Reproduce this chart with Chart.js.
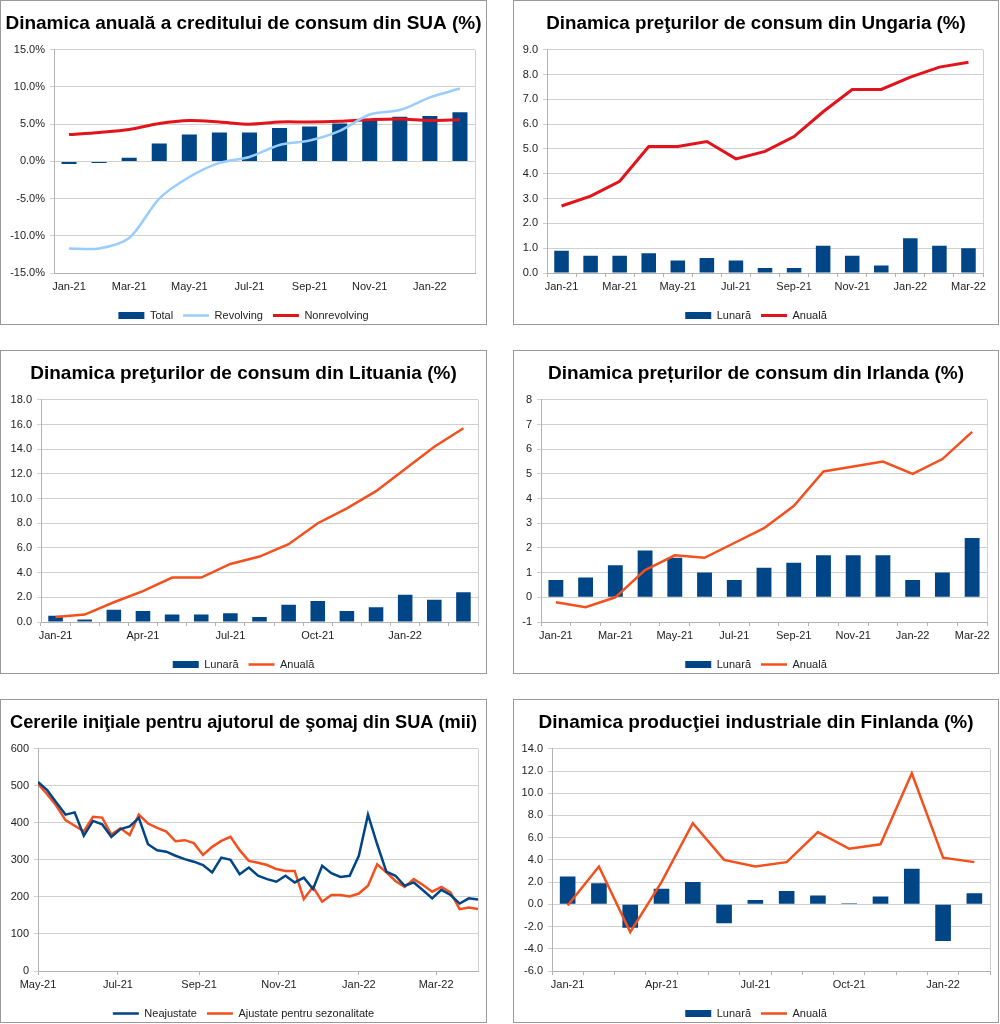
<!DOCTYPE html>
<html>
<head>
<meta charset="utf-8">
<script src="https://cdn.jsdelivr.net/npm/chart.js@4.4.0/dist/chart.umd.min.js"></script>
<style>
    body { margin: 0; background: #fff; width: 1000px; height: 1024px; position: relative; }
    .box { position: absolute; border: 1px solid #999; background: #fff; }
    .box canvas { display: block; }
</style>
</head>
<body>
<div class="box" style="left:0;top:0"><canvas id="c1" width="485" height="323"></canvas></div>
<div class="box" style="left:513px;top:0"><canvas id="c2" width="484" height="323"></canvas></div>
<div class="box" style="left:0;top:350px"><canvas id="c3" width="485" height="322"></canvas></div>
<div class="box" style="left:513px;top:350px"><canvas id="c4" width="484" height="322"></canvas></div>
<div class="box" style="left:0;top:699px"><canvas id="c5" width="485" height="322"></canvas></div>
<div class="box" style="left:513px;top:699px"><canvas id="c6" width="484" height="322"></canvas></div>

<script>
// Month categories
const months14 = ["Jan-21", "Feb-21", "Mar-21", "Apr-21", "May-21", "Jun-21", "Jul-21",
    "Aug-21", "Sep-21", "Oct-21", "Nov-21", "Dec-21", "Jan-22", "Feb-22"];
const months15 = months14.concat(["Mar-22"]);

// 1. SUA - credit de consum (%)
const usTotal = [-0.35, -0.2, 0.5, 2.4, 3.6, 3.9, 3.9, 4.5, 4.7, 5.1, 5.7, 6.0, 6.1, 6.6];
const usRevolving = [-11.7, -11.7, -10.3, -5.0, -2.1, -0.2, 0.6, 2.2, 2.8, 4.1, 6.3, 6.9, 8.6, 9.8];
const usNonrevolving = [3.6, 3.9, 4.3, 5.1, 5.5, 5.3, 5.0, 5.3, 5.3, 5.4, 5.6, 5.7, 5.5, 5.6];

// 2. Ungaria - preturi de consum (%)
const huMonthly = [0.9, 0.7, 0.7, 0.8, 0.5, 0.6, 0.5, 0.2, 0.2, 1.1, 0.7, 0.3, 1.4, 1.1, 1.0];
const huAnnual = [2.7, 3.1, 3.7, 5.1, 5.1, 5.3, 4.6, 4.9, 5.5, 6.5, 7.4, 7.4, 7.9, 8.3, 8.5];

// 3. Lituania - preturi de consum (%)
const ltMonthly = [0.5, 0.2, 1.0, 0.9, 0.6, 0.6, 0.7, 0.4, 1.4, 1.7, 0.9, 1.2, 2.2, 1.8, 2.4];
const ltAnnual = [0.4, 0.6, 1.6, 2.5, 3.6, 3.6, 4.7, 5.3, 6.3, 8.0, 9.2, 10.6, 12.4, 14.2, 15.7];

// 4. Irlanda - preturi de consum (%)
const ieMonthly = [0.7, 0.8, 1.3, 1.9, 1.6, 1.0, 0.7, 1.2, 1.4, 1.7, 1.7, 1.7, 0.7, 1.0, 2.4];
const ieAnnual = [-0.2, -0.4, 0.0, 1.1, 1.7, 1.6, 2.2, 2.8, 3.7, 5.1, 5.3, 5.5, 5.0, 5.6, 6.7];

// 5. SUA - cereri initiale somaj (mii), saptamanal din 1 mai 2021
const claimsStart = "2021-05-01";
const claimsNsa = [510, 488, 455, 422, 428, 365, 405, 396, 362, 383, 390, 413, 342, 326, 322,
    311, 302, 295, 286, 266, 306, 300, 261, 279, 257, 248, 241, 257, 239, 252,
    221, 284, 264, 254, 257, 311, 422, 342, 268, 257, 230, 239, 218, 196, 219,
    205, 182, 196, 193];
const claimsSa = [505, 477, 446, 407, 392, 377, 416, 414, 368, 385, 367, 422, 398, 386, 376,
    350, 353, 345, 313, 335, 351, 362, 326, 297, 292, 286, 275, 270, 270, 194,
    227, 187, 205, 205, 201, 209, 230, 288, 266, 243, 227, 248, 232, 214, 227,
    212, 167, 171, 167];
const claimsTickDates = ["2021-05-01", "2021-07-01", "2021-09-01", "2021-11-01", "2022-01-01", "2022-03-01"];
const claimsTickLabels = ["May-21", "Jul-21", "Sep-21", "Nov-21", "Jan-22", "Mar-22"];

// 6. Finlanda - productie industriala (%)
const fiMonthly = [2.5, 1.9, -2.1, 1.4, 2.0, -1.7, 0.4, 1.2, 0.8, 0.1, 0.7, 3.2, -3.3, 1.0];
const fiAnnual = [-0.1, 3.4, -2.5, 2.0, 7.3, 4.0, 3.4, 3.8, 6.5, 5.0, 5.4, 11.8, 4.2, 3.8];

const BLUE = "#004586";
const RED = "#e3131b";
const ORANGE = "#f4501e";
const LIGHTBLUE = "#99ccff";
const GRID = "#d0d0d0";
const AXIS = "#b3b3b3";

Chart.defaults.font.family = '"Liberation Sans", Arial, sans-serif';
Chart.defaults.font.size = 11;
Chart.defaults.color = "#222";

// thin light border on the right side of the plot area
const frame = {
    id: "frame",
    beforeDatasetsDraw(chart) {
        const { ctx, chartArea: a } = chart;
        const x = Math.round(a.right) + 0.5;
        ctx.save();
        ctx.strokeStyle = GRID;
        ctx.lineWidth = 1;
        ctx.beginPath();
        ctx.moveTo(x, a.top);
        ctx.lineTo(x, a.bottom);
        ctx.stroke();
        ctx.restore();
    }
};

function titleOpts(text, size) {
    return {
        display: true,
        text: text,
        color: "#000",
        font: { size: size, weight: "bold" },
        padding: { top: 11 + (20 - size) / 2, bottom: 14 + (20 - size) / 2 }
    };
}

function legendOpts() {
    return {
        position: "bottom",
        labels: {
            usePointStyle: true,
            pointStyleWidth: 26,
            boxHeight: 7,
            padding: 10,
            color: "#222",
            font: { size: 11 },
            sort: (a, b) => a.datasetIndex - b.datasetIndex
        }
    };
}

// empty scale on the right, only to keep a gap after the plot area
function rightGap(width) {
    return {
        position: "right",
        display: true,
        ticks: { display: false },
        grid: { display: false },
        border: { display: false },
        afterFit: s => { s.width = width; }
    };
}

function barSet(label, data) {
    return { type: "bar", label: label, data: data, backgroundColor: BLUE, borderWidth: 0,
        barPercentage: 0.5, categoryPercentage: 1, pointStyle: "rect", order: 2 };
}

function lineSet(label, data, color, width, tension) {
    return { type: "line", label: label, data: data, borderColor: color, backgroundColor: color,
        borderWidth: width, pointRadius: 0, tension: tension || 0, pointStyle: "line", order: 1 };
}

function comboChart(id, o) {
    const tickMarks = o.tickMarks !== false;
    return new Chart(document.getElementById(id), {
        type: "bar",
        data: { labels: o.labels, datasets: o.datasets },
        options: {
            responsive: false,
            animation: false,
            layout: { padding: { left: 0, right: 0, top: 0, bottom: -7 } },
            plugins: {
                title: titleOpts(o.title, o.titleSize),
                legend: legendOpts(),
                tooltip: { enabled: false }
            },
            scales: {
                x: {
                    grid: { drawOnChartArea: false, drawTicks: tickMarks, tickLength: 4, color: AXIS },
                    border: { color: AXIS },
                    ticks: {
                        autoSkip: false,
                        maxRotation: 0,
                        padding: tickMarks ? 3 : 7,
                        callback: function (v, i) {
                            return i % o.every === 0 ? this.getLabelForValue(v) : "";
                        }
                    },
                    afterFit: s => { s.height = 27; }
                },
                y: {
                    min: o.min,
                    max: o.max,
                    ticks: { stepSize: o.step, padding: 5, callback: o.fmt },
                    grid: { color: GRID, tickLength: 4 },
                    border: { color: AXIS },
                    afterFit: s => { s.width = o.axisWidth; }
                },
                gap: rightGap(o.padRight)
            }
        },
        plugins: [frame]
    });
}

function updateUsCredit() {
    comboChart("c1", {
        title: "Dinamica anuală a creditului de consum din SUA (%)", titleSize: 19,
        labels: months14,
        datasets: [
            barSet("Total", usTotal),
            lineSet("Revolving", usRevolving, LIGHTBLUE, 2.5, 0.3),
            lineSet("Nonrevolving", usNonrevolving, RED, 3, 0.3)
        ],
        min: -15, max: 15, step: 5, every: 2, tickMarks: false,
        fmt: v => v.toFixed(1) + "%",
        axisWidth: 53, padRight: 11
    });
}

function updateHungary() {
    comboChart("c2", {
        title: "Dinamica preţurilor de consum din Ungaria (%)", titleSize: 18.8,
        labels: months15,
        datasets: [barSet("Lunară", huMonthly), lineSet("Anuală", huAnnual, RED, 3)],
        min: 0, max: 9, step: 1, every: 2,
        fmt: v => v.toFixed(1),
        axisWidth: 33, padRight: 15
    });
}

function updateLithuania() {
    comboChart("c3", {
        title: "Dinamica preţurilor de consum din Lituania (%)", titleSize: 19,
        labels: months15,
        datasets: [barSet("Lunară", ltMonthly), lineSet("Anuală", ltAnnual, ORANGE, 2.5)],
        min: 0, max: 18, step: 2, every: 3,
        fmt: v => v.toFixed(1),
        axisWidth: 40, padRight: 8
    });
}

function updateIreland() {
    comboChart("c4", {
        title: "Dinamica prețurilor de consum din Irlanda (%)", titleSize: 19,
        labels: months15,
        datasets: [barSet("Lunară", ieMonthly), lineSet("Anuală", ieAnnual, ORANGE, 2.5)],
        min: -1, max: 8, step: 1, every: 2,
        fmt: v => v.toFixed(0),
        axisWidth: 27, padRight: 11
    });
}

function updateFinland() {
    comboChart("c6", {
        title: "Dinamica producţiei industriale din Finlanda (%)", titleSize: 19,
        labels: months14,
        datasets: [barSet("Lunară", fiMonthly), lineSet("Anuală", fiAnnual, ORANGE, 2.5)],
        min: -6, max: 14, step: 2, every: 3,
        fmt: v => v.toFixed(1),
        axisWidth: 38, padRight: 8
    });
}

function dayOffset(dateStr) {
    return (Date.parse(dateStr) - Date.parse(claimsStart)) / 864e5;
}

function updateClaims() {
    // weekly observations, one every 7 days from claimsStart
    const weekDays = claimsNsa.map((_, i) => i * 7);
    const tickDays = claimsTickDates.map(dayOffset);
    const toPoints = arr => arr.map((v, i) => ({ x: weekDays[i], y: v }));

    new Chart(document.getElementById("c5"), {
        type: "line",
        data: {
            datasets: [
                { label: "Neajustate", data: toPoints(claimsNsa), borderColor: BLUE, backgroundColor: BLUE,
                    borderWidth: 2.5, pointRadius: 0, pointStyle: "line" },
                { label: "Ajustate pentru sezonalitate", data: toPoints(claimsSa), borderColor: ORANGE,
                    backgroundColor: ORANGE, borderWidth: 2.5, pointRadius: 0, pointStyle: "line" }
            ]
        },
        options: {
            responsive: false,
            animation: false,
            layout: { padding: { left: 0, right: 0, top: 0, bottom: -7 } },
            plugins: {
                title: titleOpts("Cererile iniţiale pentru ajutorul de şomaj din SUA (mii)", 18.2),
                legend: legendOpts(),
                tooltip: { enabled: false }
            },
            scales: {
                x: {
                    type: "linear",
                    min: 0,
                    max: weekDays[weekDays.length - 1],
                    afterBuildTicks: s => { s.ticks = tickDays.map(v => ({ value: v })); },
                    ticks: {
                        autoSkip: false,
                        maxRotation: 0,
                        padding: 3,
                        callback: v => claimsTickLabels[tickDays.indexOf(v)]
                    },
                    grid: { drawOnChartArea: false, tickLength: 4, color: AXIS },
                    border: { color: AXIS },
                    afterFit: s => { s.height = 27; }
                },
                y: {
                    min: 0,
                    max: 600,
                    ticks: { stepSize: 100, padding: 5 },
                    grid: { color: GRID, tickLength: 4 },
                    border: { color: AXIS },
                    afterFit: s => { s.width = 37; }
                },
                gap: rightGap(8)
            }
        },
        plugins: [frame]
    });
}

// Initial draw
updateUsCredit();
updateHungary();
updateLithuania();
updateIreland();
updateClaims();
updateFinland();
</script>
</body>
</html>
